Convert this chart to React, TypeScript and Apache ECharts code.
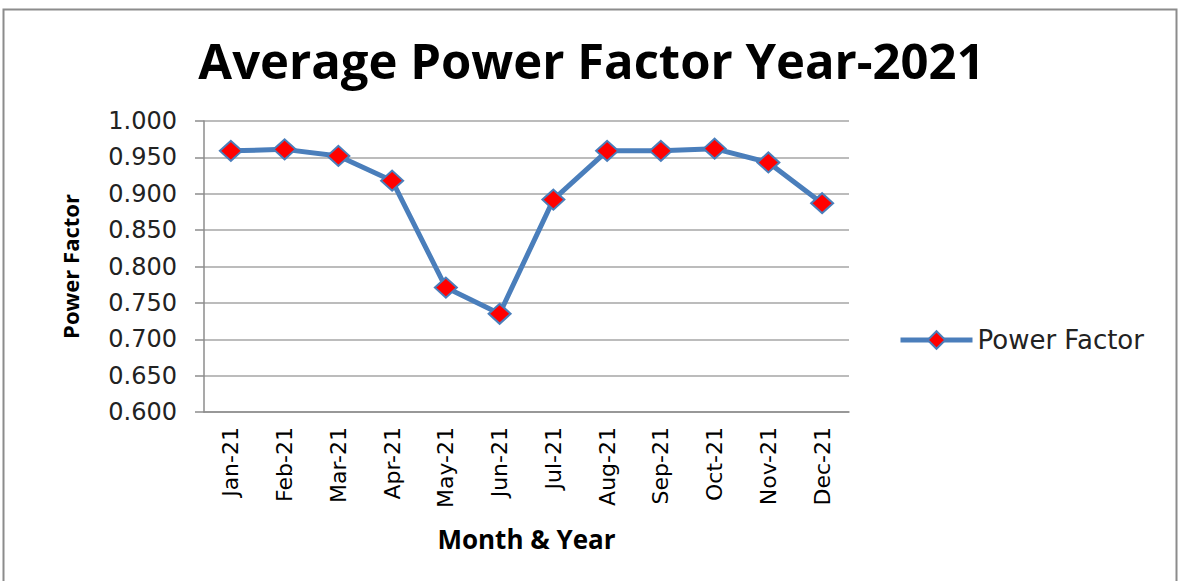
import React, { useEffect, useRef } from "react";
import * as echarts from "echarts";

const months = ["Jan-21", "Feb-21", "Mar-21", "Apr-21", "May-21", "Jun-21", "Jul-21", "Aug-21", "Sep-21", "Oct-21", "Nov-21", "Dec-21"];
const powerFactor = [0.959, 0.961, 0.952, 0.918, 0.771, 0.735, 0.892, 0.959, 0.959, 0.962, 0.943, 0.887];
const seriesName = "Power Factor";
const titleText = "Average Power Factor Year-2021";
const xName = "Month & Year";
const yName = "Power Factor";

export default function App() {
  const ref = useRef<HTMLDivElement>(null);
  useEffect(() => {
    if (!ref.current) return;
    const chart = echarts.init(ref.current, null, { renderer: "svg" });
    chart.setOption({
      animation: false,
      backgroundColor: "#ffffff",
      title: {
        text: titleText,
        left: "center",
        top: 30,
        textStyle: { fontFamily: "Open Sans", fontWeight: "bold", fontSize: 49, color: "#000" },
      },
      graphic: [
        {
          type: "rect",
          shape: { x: 3.5, y: 9.5, width: 1173, height: 620 },
          style: { fill: "none", stroke: "#8c8c8c", lineWidth: 2 },
          silent: true,
        },
      ],
      grid: { left: 204, right: 334, top: 121, bottom: 169 },
      legend: {
        data: [seriesName],
        orient: "vertical",
        left: 893,
        top: 322,
        itemWidth: 72,
        itemHeight: 22,
        itemGap: 10,
        lineStyle: { width: 5 },
        textStyle: { fontFamily: "DejaVu Sans", fontSize: 26, color: "#222" },
      },
      xAxis: {
        type: "category",
        data: months,
        boundaryGap: true,
        name: xName,
        nameLocation: "middle",
        nameGap: 114,
        nameTextStyle: { fontFamily: "Open Sans", fontWeight: "bold", fontSize: 26, color: "#000" },
        axisLine: { lineStyle: { color: "#8c8c8c", width: 1.5 } },
        axisTick: { show: false },
        axisLabel: { rotate: 90, margin: 15, fontFamily: "DejaVu Sans", fontSize: 22, color: "#000" },
      },
      yAxis: {
        type: "value",
        min: 0.6,
        max: 1.0,
        interval: 0.05,
        name: yName,
        nameLocation: "middle",
        nameRotate: 90,
        nameGap: 123,
        nameTextStyle: { fontFamily: "Open Sans", fontWeight: "bold", fontSize: 22, color: "#000" },
        axisLine: { show: true, lineStyle: { color: "#8c8c8c", width: 1.5 } },
        axisTick: { show: true, length: 9, lineStyle: { color: "#8c8c8c", width: 1.5 } },
        axisLabel: {
          margin: 27,
          fontFamily: "DejaVu Sans",
          fontSize: 24,
          color: "#222",
          formatter: (v: number) => v.toFixed(3),
        },
        splitLine: { lineStyle: { color: "#a6a6a6", width: 1.5 } },
      },
      series: [
        {
          name: seriesName,
          type: "line",
          data: powerFactor,
          symbol: "diamond",
          symbolSize: [22, 20],
          lineStyle: { color: "#4a7ebb", width: 5 },
          itemStyle: { color: "#ff0000", borderColor: "#4a7ebb", borderWidth: 2 },
        },
      ],
    });
    return () => chart.dispose();
  }, []);
  return <div ref={ref} style={{ position: "fixed", left: 0, top: 0, width: 1183, height: 581 }} />;
}
